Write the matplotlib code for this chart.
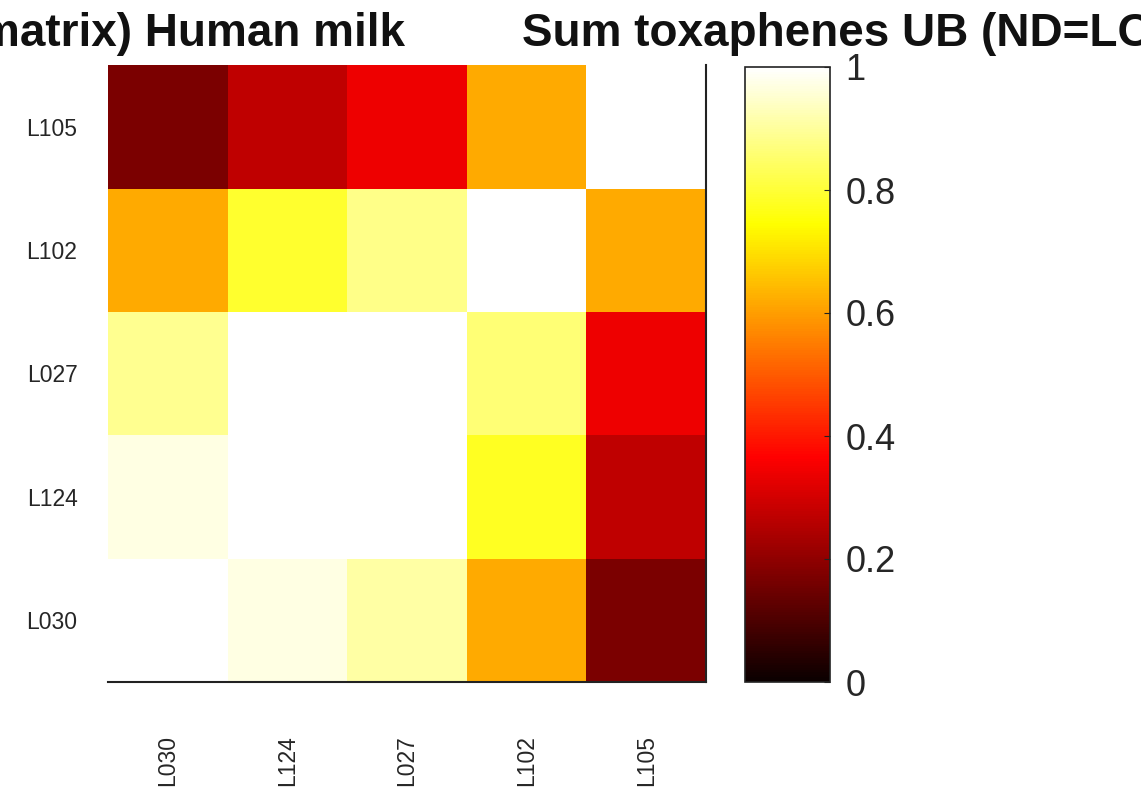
import numpy as np
import matplotlib
matplotlib.use("Agg")
import matplotlib.pyplot as plt

labels = ["L030", "L124", "L027", "L102", "L105"]
# rows bottom -> top (L030 ... L105), columns left -> right (L030 ... L105)
row_L030 = [1.00, 0.97, 0.91, 0.62, 0.17]
row_L124 = [0.97, 1.00, 1.00, 0.78, 0.27]
row_L027 = [0.89, 1.00, 1.00, 0.86, 0.34]
row_L102 = [0.62, 0.79, 0.88, 1.00, 0.62]
row_L105 = [0.17, 0.27, 0.34, 0.62, 1.00]
cbar_ticks = [0, 0.2, 0.4, 0.6, 0.8, 1]
cbar_ticklabels = ["0", "0.2", "0.4", "0.6", "0.8", "1"]
title_left = "matrix) Human milk"
title_right = "Sum toxaphenes UB (ND=LOQ)"

M = np.array([row_L030, row_L124, row_L027, row_L102, row_L105])

plt.rcParams['font.family'] = ['Liberation Sans', 'DejaVu Sans']
W, H = 1141, 798
fig = plt.figure(figsize=(W / 100, H / 100), dpi=100)
fig.patch.set_facecolor('white')

def fx(px):
    return px / W

def fy(py):
    return 1 - py / H

ax = fig.add_axes([fx(108), fy(682), fx(706) - fx(108), fy(65) - fy(682)])
im = ax.imshow(M, cmap='hot', vmin=0, vmax=1, origin='lower', aspect='auto',
               interpolation='nearest')
ax.set_xticks(range(len(labels)))
ax.set_yticks(range(len(labels)))
ax.set_xticklabels(labels, rotation=90, fontsize=16.5, color='#262626')
ax.set_yticklabels(labels, fontsize=16.5, color='#262626')
ax.tick_params(axis='both', length=0)
ax.tick_params(axis='x', pad=38)
ax.tick_params(axis='y', pad=22)
for s in ['top', 'left']:
    ax.spines[s].set_visible(False)
for s in ['bottom', 'right']:
    ax.spines[s].set_linewidth(1.5)
    ax.spines[s].set_color('#222222')

cax = fig.add_axes([fx(745), fy(682), fx(830) - fx(745), fy(67) - fy(682)])
cb = fig.colorbar(im, cax=cax)
cb.set_ticks(cbar_ticks)
cb.set_ticklabels(cbar_ticklabels)
cb.outline.set_linewidth(1.2)
cb.outline.set_edgecolor('#222222')
cax.tick_params(axis='y', labelsize=26, labelcolor='#262626', direction='in',
                length=4, width=0.8, pad=11, color='#222222')

fig.text(fx(-21), fy(46), title_left, ha='left', va='baseline', fontsize=33,
         fontweight='bold', color='#111111')
fig.text(fx(522), fy(46), title_right, ha='left', va='baseline', fontsize=33,
         fontweight='bold', color='#111111')

fig.savefig('out.png', dpi=100, facecolor='white')
